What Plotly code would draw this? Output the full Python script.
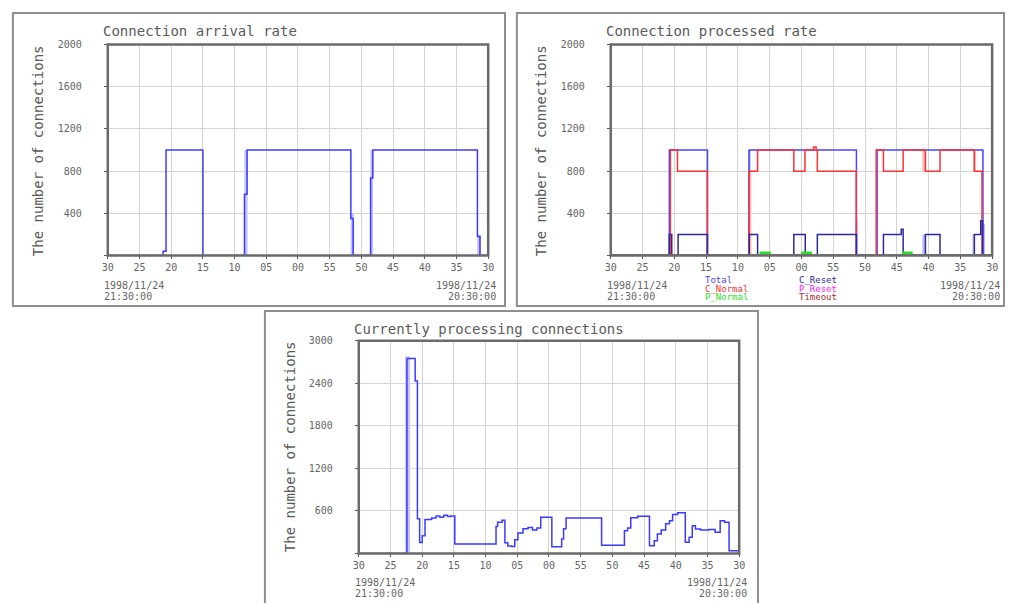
import pandas as pd
import plotly.graph_objects as go

W, H = 1011, 603
MONO = "DejaVu Sans Mono"
START = pd.Timestamp("1998-11-24 21:30:00")   # newest sample, drawn at the left edge
END = START - pd.Timedelta(minutes=60)         # oldest sample, drawn at the right edge

# ---- data: breakpoints in minutes counted back from 21:30:00, value held until the next point ----
arrival_min = [0, 8.73, 9.19, 15.0, 21.56, 21.97, 38.34, 38.70, 41.45, 41.80, 58.30, 58.70, 60]
arrival_val = [0, 40, 1000, 0, 580, 1000, 350, 0, 735, 1000, 180, 0, 0]

total_min = [0, 9.22, 15.22, 21.76, 38.65, 41.9, 58.55, 60]
total_val = [0, 1000, 0, 1000, 0, 1000, 0, 0]

c_normal_min = [0, 9.38, 10.5, 15.2, 21.75, 23.1, 28.8, 30.55, 31.9, 32.3, 32.5, 38.62,
                41.76, 42.9, 46.0, 49.5, 51.8, 57.2, 58.4, 60]
c_normal_val = [0, 1000, 800, 0, 800, 1000, 800, 1000, 1030, 1000, 800, 0,
                1000, 800, 1000, 800, 1000, 800, 0, 0]

c_reset_min = [0, 9.2, 9.6, 10.6, 15.2, 21.8, 23.1, 28.8, 30.6, 32.5, 38.65,
               42.9, 45.7, 46.0, 49.5, 51.8, 57.2, 58.2, 58.5, 60]
c_reset_val = [0, 200, 0, 200, 0, 200, 0, 200, 0, 200, 0,
               200, 250, 0, 200, 0, 200, 330, 0, 0]

p_normal_min = [0, 23.6, 25.0, 30.15, 31.45, 46.0, 47.3, 60]
p_normal_val = [0, 25, 0, 25, 0, 25, 0, 0]

p_reset_min = [0, 60]
p_reset_val = [0, 0]

timeout_min = [0, 60]
timeout_val = [0, 0]

active_min = [0, 7.6, 8.9, 9.25, 9.6, 10.0, 10.45, 11.5, 12.2, 12.8, 13.4, 14.0, 14.5, 15.15,
              21.65, 21.9, 22.6, 23.05, 23.5, 24.1, 24.6, 25.1, 25.9, 26.7, 27.4, 28.1, 28.7,
              30.45, 32.0, 32.3, 32.7, 38.3, 41.9, 42.4, 42.9, 44.0, 45.85, 46.6, 47.1, 47.7,
              48.4, 49.0, 49.5, 50.3, 51.5, 52.1, 52.6, 53.1, 53.9, 55.2, 56.2, 57.0, 57.7,
              58.4, 60]
active_val = [0, 2750, 2430, 490, 155, 250, 480, 500, 530, 510, 540, 520, 530, 135,
              380, 440, 470, 150, 105, 100, 195, 290, 350, 365, 330, 360, 510,
              95, 205, 350, 500, 115, 320, 360, 505, 525, 110, 180, 275, 330,
              420, 460, 550, 575, 160, 230, 390, 345, 330, 340, 300, 460, 440,
              40, 40]

# min/max spread inside a sampling interval: (from, to, low, high) in minutes back / connections
arrival_spread = [(21.55, 22.05, 0, 1000), (38.30, 38.85, 0, 400),
                  (41.40, 41.85, 0, 1000), (58.25, 58.80, 0, 200)]
total_spread = [(21.6, 21.9, 200, 1000), (38.5, 38.85, 0, 350), (49.0, 49.5, 0, 200),
                (56.9, 57.2, 0, 200), (58.5, 58.9, 0, 300)]
c_normal_spread = [(21.65, 22.15, 0, 800), (49.0, 49.6, 800, 1000), (57.0, 57.3, 800, 1000)]
active_spread = [(7.32, 8.1, 0, 2780)]

series_names = ["Total", "C_Normal", "P_Normal", "C_Reset", "P_Reset", "Timeout"]
series_colors = ["#4646ff", "#ff3232", "#28e028", "#2a2a9a", "#ff22ff", "#a03030"]

y_rate_ticks = [0, 400, 800, 1200, 1600, 2000]
y_active_ticks = [0, 600, 1200, 1800, 2400, 3000]


def when(mins):
    return START - pd.to_timedelta(mins, unit="min")


def px(x):
    return x / W


def py(y):
    return 1 - y / H


fig = go.Figure()


def add_step(mins, vals, color, xa, ya, width=1.5):
    fig.add_trace(go.Scatter(x=when(mins), y=vals, mode="lines", line_shape="hv",
                             line=dict(color=color, width=width), xaxis=xa, yaxis=ya,
                             hoverinfo="skip"))


def add_spread(spread, color, xa, ya):
    mids = [(a + b) / 2 for a, b, _, _ in spread]
    fig.add_trace(go.Bar(x=when(mids), y=[hi - lo for _, _, lo, hi in spread],
                         base=[lo for _, _, lo, _ in spread],
                         width=[(b - a) * 60000 for a, b, _, _ in spread],
                         marker=dict(color=color, line=dict(width=0)),
                         xaxis=xa, yaxis=ya, hoverinfo="skip"))


# panel 1: arrival rate
add_spread(arrival_spread, "#c4c4ff", "x", "y")
add_step(arrival_min, arrival_val, "#3a3aff", "x", "y")

# panel 2: processed rate by outcome
add_spread(total_spread, "#c0c0ff", "x2", "y2")
add_spread(c_normal_spread, "#ffc0c0", "x2", "y2")
processed = {
    "Total": (total_min, total_val),
    "C_Normal": (c_normal_min, c_normal_val),
    "P_Normal": (p_normal_min, p_normal_val),
    "C_Reset": (c_reset_min, c_reset_val),
    "P_Reset": (p_reset_min, p_reset_val),
    "Timeout": (timeout_min, timeout_val),
}
for name in ["Total", "C_Normal", "C_Reset", "P_Normal", "P_Reset", "Timeout"]:
    m, v = processed[name]
    add_step(m, v, series_colors[series_names.index(name)], "x2", "y2",
             width=2.5 if name == "P_Normal" else 1.5)

# panel 3: connections in progress
add_spread(active_spread, "#c4c4ff", "x3", "y3")
add_step(active_min, active_val, "#3a3aff", "x3", "y3")

xcommon = dict(type="date", range=[START.strftime("%Y-%m-%d %H:%M:%S"), END.strftime("%Y-%m-%d %H:%M:%S")],
               tickformat="%M", dtick=300000, tick0=END.strftime("%Y-%m-%d %H:%M:%S"),
               showgrid=True, gridcolor="#d4d4d4", gridwidth=1,
               showline=False,
               ticks="outside", ticklen=3, tickcolor="#555",
               tickfont=dict(family=MONO, size=10, color="#666"),
               zeroline=False, fixedrange=True)


def ycommon(ticks):
    return dict(range=[ticks[0], ticks[-1]], tickvals=ticks,
                ticktext=[""] + [str(t) for t in ticks[1:]],
                showgrid=True, gridcolor="#d4d4d4", gridwidth=1,
                showline=False,
                ticks="outside", ticklen=3, tickcolor="#555", ticklabelstandoff=20,
                tickfont=dict(family=MONO, size=10, color="#666"),
                zeroline=False, fixedrange=True)


fig.update_layout(
    width=W, height=H, margin=dict(l=0, r=0, t=0, b=0),
    paper_bgcolor="white", plot_bgcolor="white",
    showlegend=False, barmode="overlay",
    font=dict(family=MONO, size=10, color="#555"),
    xaxis=dict(domain=[px(103), px(488)], anchor="y", **xcommon),
    yaxis=dict(domain=[py(252), py(39)], anchor="x", **ycommon(y_rate_ticks)),
    xaxis2=dict(domain=[px(612), px(998)], anchor="y2", **xcommon),
    yaxis2=dict(domain=[py(252), py(39)], anchor="x2", **ycommon(y_rate_ticks)),
    xaxis3=dict(domain=[px(357), px(742)], anchor="y3", **xcommon),
    yaxis3=dict(domain=[py(553), py(338)], anchor="x3", **ycommon(y_active_ticks)),
)

# panel frames
frames = [(7, 7, 505, 303), (517, 7, 1010, 303), (262, 308, 761, 610)]
for x0, y0, x1, y1 in frames:
    fig.add_shape(type="rect", xref="paper", yref="paper",
                  x0=px(x0), x1=px(x1), y0=py(y1), y1=py(y0),
                  line=dict(color="#8e8e8e", width=2), layer="below")

# plot-area box drawn over the traces so zero-level lines sit under it
for xa, ya in [("x", "y"), ("x2", "y2"), ("x3", "y3")]:
    fig.add_shape(type="rect", xref=f"{xa} domain", yref=f"{ya} domain",
                  x0=0, x1=1, y0=0, y1=1, layer="above",
                  line=dict(color="#6a6a6a", width=2.5))


def note(text, x, y, size=10, color="#555", anchor="left", angle=0):
    fig.add_annotation(text=text, x=px(x), y=py(y), xref="paper", yref="paper",
                       xanchor=anchor, yanchor="middle", showarrow=False, textangle=angle,
                       font=dict(family=MONO, size=size, color=color))


# panel titles and axis titles
panels = [
    ("Connection arrival rate", 103, 25, 37, 146, 282, 293, 497),
    ("Connection processed rate", 612, 25, 546, 146, 282, 293, 1007),
    ("Currently processing connections", 357, 326, 292, 445, 582, 593, 751),
]
for title, left, ty, ax_x, ax_y, d1, d2, rx in panels:
    note(title, left - 7, ty, size=14, color="#5a5a5a")
    note("The number of connections", ax_x - 5, ax_y, size=14, color="#5a5a5a", anchor="center", angle=-90)
    note(START.strftime("%Y/%m/%d"), left - 6, d1, size=10, color="#666")
    note(START.strftime("%H:%M:%S"), left - 6, d2, size=10, color="#666")
    note(END.strftime("%Y/%m/%d"), rx + 1, d1, size=10, color="#666", anchor="right")
    note(END.strftime("%H:%M:%S"), rx + 1, d2, size=10, color="#666", anchor="right")

# legend for the processed-rate panel
legend_x = [709, 709, 709, 805, 805, 805]
legend_y = [277, 285.5, 294, 277, 285.5, 294]
for name, color, lx, ly in zip(series_names, series_colors, legend_x, legend_y):
    note(name, lx - 4, ly, size=9, color=color)

fig.write_html("out.html")
